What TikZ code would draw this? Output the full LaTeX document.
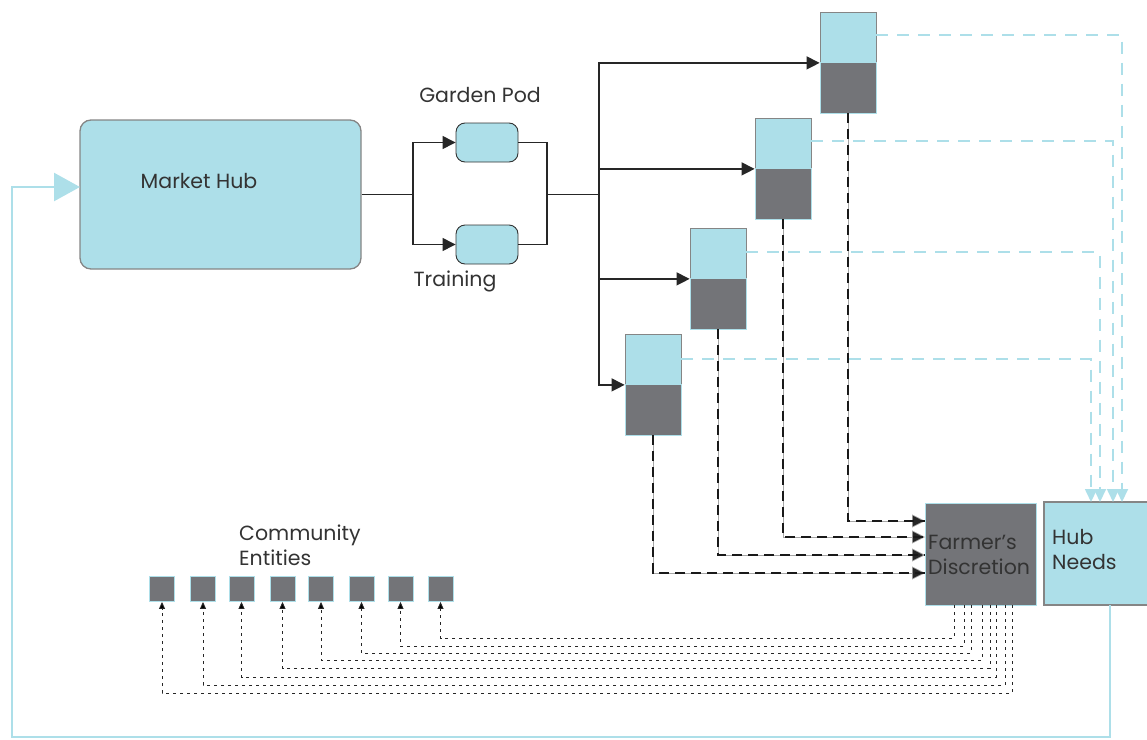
\documentclass[tikz,border=0pt]{standalone}
\usepackage{fontspec}
\setmainfont{Poppins}
\usetikzlibrary{arrows.meta}
\definecolor{lb}{HTML}{ADDFE9}
\definecolor{dg}{HTML}{737478}
\definecolor{bd}{HTML}{858585}
\definecolor{tx}{HTML}{333333}
\begin{document}
\begin{tikzpicture}[x=1pt,y=-1pt,
  lbl/.style={font=\fontsize{20.5}{25}\selectfont, text=tx, inner sep=0pt},
  half/.style={minimum width=56pt, minimum height=50.5pt, inner sep=0pt},
  tophalf/.style={half, fill=lb, draw=bd, line width=0.8pt},
  bothalf/.style={half, fill=dg, draw=lb, line width=0.8pt},
  comm/.style={minimum size=25pt, inner sep=0pt, fill=dg, draw=lb, line width=0.8pt},
  pod/.style={minimum width=62pt, minimum height=39pt, rounded corners=9pt, fill=lb, draw=black!80, line width=0.9pt},
  conn/.style={draw=black!85, line width=1.3pt},
  arr/.style={conn, -{Triangle[length=13pt,width=13pt]}},
  bdash/.style={draw=black!35, line width=0.7pt, -{Triangle[length=13pt,width=13pt,fill=black!85]},
     postaction={draw=black!90, line width=1.6pt, dash pattern=on 10pt off 6pt, -}},
  lbdash/.style={draw=lb, line width=1.7pt, dash pattern=on 12pt off 9pt, -{Triangle[length=13pt,width=12pt,fill=lb]}},
  dotarr/.style={draw=black!85, line width=0.9pt, dash pattern=on 3pt off 4pt, -{Triangle[length=7pt,width=6pt,fill=black]}},
  fb/.style={draw=lb, line width=2.5pt, -{Triangle[length=26pt,width=28pt]}}
]
\useasboundingbox (0,0) rectangle (1147,739);

% Market hub
\node[minimum width=281pt, minimum height=149pt, rounded corners=11pt, fill=lb, draw=bd, line width=1.3pt] (mh) at (220.5,194.5) {};
\node[lbl] (mhl) at (199,181) {Market Hub};

% pods
\node[pod] (gp) at (487,142.5) {};
\node[pod] (tr) at (487,244.5) {};
\node[lbl] (gpl) at (480,95) {Garden Pod};
\node[lbl] (trl) at (455,281) {Training};

\coordinate (j1) at (413,194.5);
\coordinate (j2) at (547,194.5);
\coordinate (j3) at (599,194.5);
\draw[conn] (mh.east) -- (j1);
\draw[arr] (j1) |- (gp.west);
\draw[arr] (j1) |- (tr.west);
\draw[conn] (gp.east) -| (j2);
\draw[conn] (tr.east) -| (j2);
\draw[conn] (j2) -- (j3);

% stacked boxes
\node[tophalf] (b1t) at (848,37.25) {};
\node[bothalf] (b1b) at (848,87.75) {};
\node[tophalf] (b2t) at (783,143.25) {};
\node[bothalf] (b2b) at (783,193.75) {};
\node[tophalf] (b3t) at (718,253.25) {};
\node[bothalf] (b3b) at (718,303.75) {};
\node[tophalf] (b4t) at (653,359.25) {};
\node[bothalf] (b4b) at (653,409.75) {};

\draw[arr] (j3) |- (b1t.south west);
\draw[arr] (j3) |- (b2t.south west);
\draw[arr] (j3) |- (b3t.south west);
\draw[arr] (j3) |- (b4t.south west);

% Farmer's discretion and Hub needs
\node[minimum width=111pt, minimum height=102pt, inner sep=0pt, fill=dg, draw=lb, line width=0.8pt] (fd) at (980.5,554) {};
\node[lbl, anchor=west, align=left, font=\fontsize{20.5}{25}\selectfont] (fdl) at (928,555) {Farmer's\\Discretion};
\node[minimum width=106pt, minimum height=103pt, inner sep=0pt, fill=lb, draw=bd, line width=1.6pt] (hn) at (1097,553.5) {};
\node[lbl, anchor=west, align=left, font=\fontsize{20.5}{25}\selectfont] (hnl) at (1052,549) {Hub\\Needs};

% box -> farmer
\coordinate (f1) at (925,521);
\coordinate (f2) at (925,537);
\coordinate (f3) at (925,555);
\coordinate (f4) at (925,573);
\draw[bdash] (b1b.south) |- (f1);
\draw[bdash] (b2b.south) |- (f2);
\draw[bdash] (b3b.south) |- (f3);
\draw[bdash] (b4b.south) |- (f4);

% box -> hub needs
\coordinate (h1) at (1122,502);
\coordinate (h2) at (1113,502);
\coordinate (h3) at (1100,502);
\coordinate (h4) at (1091,502);
\draw[lbdash] ([yshift=2pt]b1t.east) -| (h1);
\draw[lbdash] ([yshift=2pt]b2t.east) -| (h2);
\draw[lbdash] ([yshift=1pt]b3t.east) -| (h3);
\draw[lbdash] (b4t.east) -| (h4);

% community entities
\node[lbl, anchor=west, align=left] (cel) at (239,545) {Community\\Entities};
\node[comm] (c1) at (162,589) {};
\node[comm] (c2) at (203,589) {};
\node[comm] (c3) at (241.5,589) {};
\node[comm] (c4) at (282.5,589) {};
\node[comm] (c5) at (321,589) {};
\node[comm] (c6) at (361.5,589) {};
\node[comm] (c7) at (400.5,589) {};
\node[comm] (c8) at (440.5,589) {};

\coordinate (o8) at (954,605);
\coordinate (o7) at (964,605);
\coordinate (o6) at (971,605);
\coordinate (o5) at (982,605);
\coordinate (o4) at (990,605);
\coordinate (o3) at (996,605);
\coordinate (o2) at (1005,605);
\coordinate (o1) at (1012,605);
\draw[dotarr] (o8) -- ++(0,33) -| (c8.south);
\draw[dotarr] (o7) -- ++(0,41) -| (c7.south);
\draw[dotarr] (o6) -- ++(0,48) -| (c6.south);
\draw[dotarr] (o5) -- ++(0,55) -| (c5.south);
\draw[dotarr] (o4) -- ++(0,63) -| (c4.south);
\draw[dotarr] (o3) -- ++(0,72) -| (c3.south);
\draw[dotarr] (o2) -- ++(0,80) -| (c2.south);
\draw[dotarr] (o1) -- ++(0,88) -| (c1.south);

% feedback
\coordinate (hb) at (1110,605);
\coordinate (fbc) at (12,737);
\coordinate (mhin) at (80,187);
\draw[fb] (hb) |- (fbc) |- (mhin);
\end{tikzpicture}
\end{document}
